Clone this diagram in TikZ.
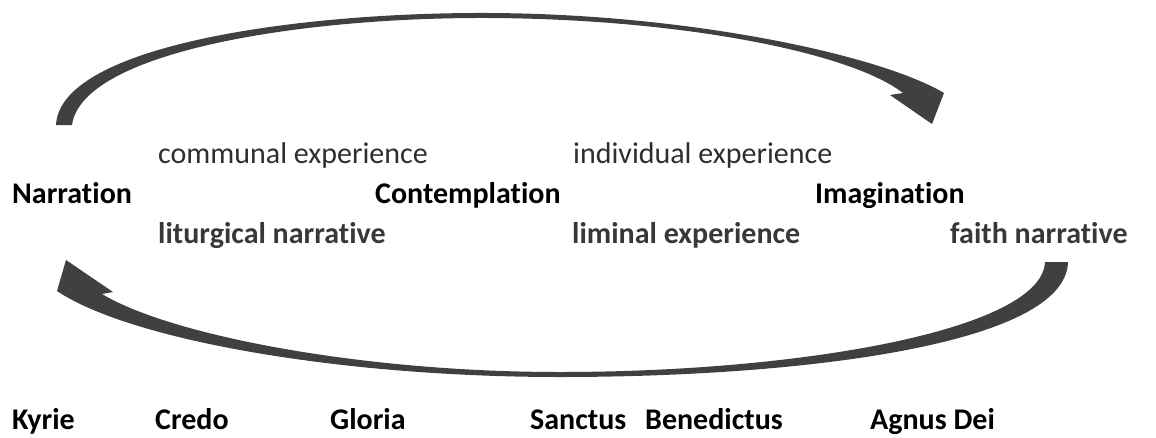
\documentclass[tikz,border=0pt]{standalone}
\usepackage{fontspec}
\setmainfont{Carlito}[Ligatures={NoCommon}]
\begin{document}
\begin{tikzpicture}[x=1pt,y=-1pt,
  lbl/.style={anchor=base west,inner sep=0pt,font=\fontsize{30}{36}\selectfont},
  main/.style={lbl,font=\fontsize{30}{36}\selectfont\bfseries,text=black},
  sub/.style={lbl,text=black!82},
  subb/.style={lbl,font=\fontsize{30}{36}\selectfont\bfseries,text=black!78},
  mass/.style={lbl,font=\fontsize{30}{36}\selectfont\bfseries,text=black},
  arrowfill/.style={fill=black!75,draw=none}]
\useasboundingbox (0,0) rectangle (1156,437);

% upper curved arrow, Narration towards Imagination
\fill[arrowfill] (56,125) .. controls (60,45) and (300,12) .. (490,13)
  .. controls (690,14) and (880,55) .. (944,93)
  -- (932,124) -- (890,95) -- (903,93)
  .. controls (850,52) and (680,19) .. (490,18)
  .. controls (300,17) and (82,52) .. (72,125) -- cycle;

% lower curved arrow, faith narrative back to Narration
\fill[arrowfill] (1045,262) -- (1068,262)
  .. controls (1066,345) and (800,377) .. (560,377)
  .. controls (340,377) and (130,340) .. (57,291)
  -- (66,260) -- (113,292) -- (102,294)
  .. controls (170,335) and (360,372) .. (560,372)
  .. controls (800,372) and (1042,330) .. (1045,262) -- cycle;

\node[sub]  (ce) at (158,163) {communal experience};
\node[sub]  (ie) at (573,163) {individual experience};
\node[main] (na) at (12,203)  {Narration};
\node[main] (co) at (375,203) {Contemplation};
\node[main] (im) at (815,203) {Imagination};
\node[subb] (ln) at (158,243) {liturgical narrative};
\node[subb] (le) at (572,243) {liminal experience};
\node[subb] (fn) at (950,243) {faith narrative};

\node[mass] (ky) at (12,429)  {Kyrie};
\node[mass] (cr) at (155,429) {Credo};
\node[mass] (gl) at (330,429) {Gloria};
\node[mass] (sa) at (530,429) {Sanctus};
\node[mass] (be) at (645,429) {Benedictus};
\node[mass] (ag) at (870,429) {Agnus Dei};
\end{tikzpicture}
\end{document}
